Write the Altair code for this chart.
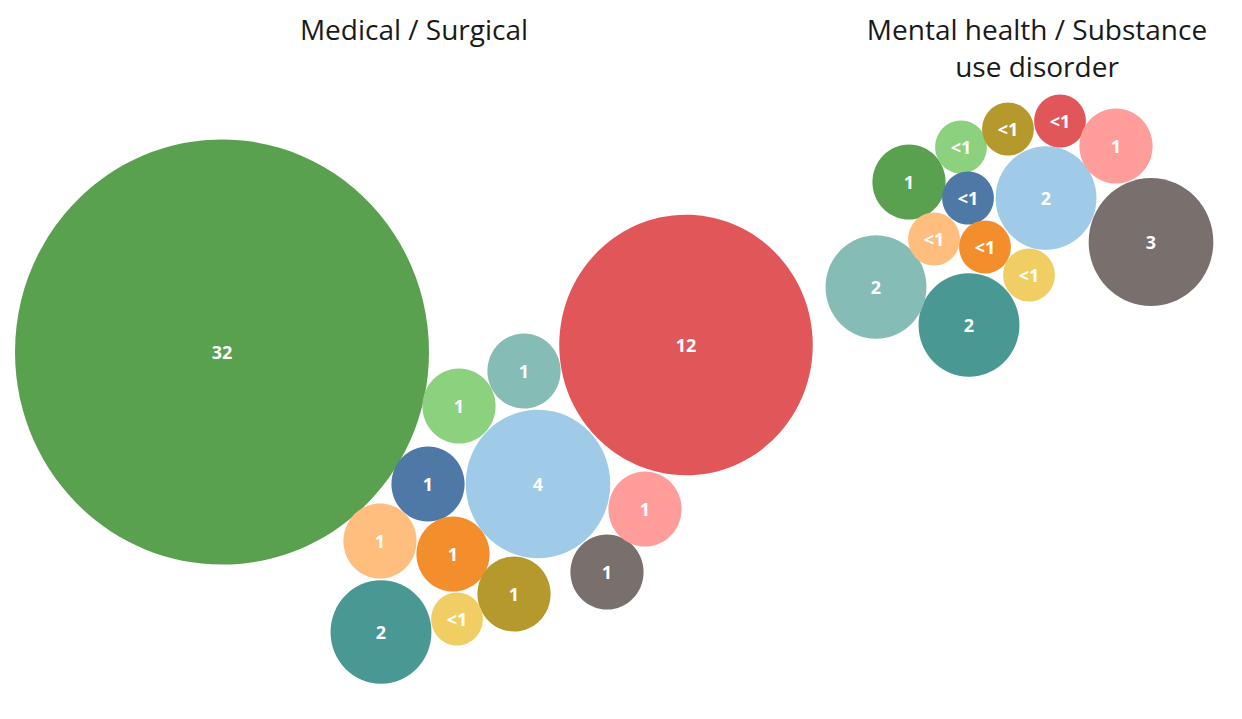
import altair as alt
import pandas as pd

# ---- data ----
groups = ["Medical / Surgical"] * 13 + ["Mental health / Substance use disorder"] * 13
categories = [
    "C01", "C02", "C03", "C04", "C05", "C06", "C07", "C08", "C09", "C10", "C11", "C12", "C13",
    "C01", "C02", "C03", "C04", "C05", "C06", "C07", "C08", "C09", "C10", "C11", "C12", "C13",
]
values = [
    32, 12, 3.9, 1.9, 1.0, 1.0, 1.0, 1.0, 1.0, 1.0, 1.0, 1.0, 0.5,
    1.0, 0.5, 1.9, 1.9, 1.9, 0.5, 0.5, 0.5, 0.5, 0.5, 2.9, 1.0, 0.5,
]
labels = [
    "32", "12", "4", "2", "1", "1", "1", "1", "1", "1", "1", "1", "<1",
    "1", "<1", "2", "2", "2", "<1", "<1", "<1", "<1", "<1", "3", "1", "<1",
]
# layout coordinates of the packed bubbles
px = [
    222, 686, 538, 381, 524, 459, 428, 380, 453, 514, 607, 645, 457,
    909, 1060, 1046, 969, 876, 961, 968, 934, 985, 1008, 1151, 1116, 1029,
]
py = [
    352, 345, 484, 632, 371, 406, 484, 541, 554, 594, 572, 509, 619,
    182, 121, 198, 325, 287, 147, 198, 239, 247, 129, 242, 146, 275,
]
cat_domain = ["C01", "C02", "C03", "C04", "C05", "C06", "C07", "C08", "C09", "C10", "C11", "C12", "C13"]
cat_colors = ["#59A14F", "#E15759", "#A0CBE8", "#499894", "#86BCB6", "#8CD17D", "#4E79A7",
              "#FFBE7D", "#F28E2B", "#B6992D", "#79706E", "#FF9D9A", "#F1CE63"]

title_lines = ["Medical / Surgical", "Mental health / Substance", "use disorder"]
title_x = [414, 1037, 1037]
title_y = [40, 40, 77]

df = pd.DataFrame({"group": groups, "category": categories, "value": values,
                   "label": labels, "x": px, "y": py})
tdf = pd.DataFrame({"text": title_lines, "x": title_x, "y": title_y})

W, H = 1226, 695
xs = alt.Scale(domain=[8, 8 + W], nice=False, zero=False)
ys = alt.Scale(domain=[8, 8 + H], nice=False, zero=False, reverse=True)

ellipse = "M -1 0 A 1 1.027 0 1 0 1 0 A 1 1.027 0 1 0 -1 0 Z"

bubbles = alt.Chart(df).mark_point(filled=True, opacity=1, shape=ellipse, strokeWidth=0).encode(
    x=alt.X("x:Q", scale=xs, axis=None),
    y=alt.Y("y:Q", scale=ys, axis=None),
    size=alt.Size("value:Q", scale=alt.Scale(type="linear", domain=[0, 32], range=[0, 4 * 207 * 207], zero=True), legend=None),
    color=alt.Color("category:N", scale=alt.Scale(domain=cat_domain, range=cat_colors), legend=None),
)

nums = alt.Chart(df).mark_text(font="Open Sans", fontWeight="bold", fontSize=18, color="white",
                               align="center", baseline="middle", dy=2).encode(
    x=alt.X("x:Q", scale=xs, axis=None),
    y=alt.Y("y:Q", scale=ys, axis=None),
    text="label:N",
)

titles = alt.Chart(tdf).mark_text(font="Open Sans", fontSize=28, color="#1a1a1a",
                                  align="center", baseline="alphabetic").encode(
    x=alt.X("x:Q", scale=xs, axis=None),
    y=alt.Y("y:Q", scale=ys, axis=None),
    text="text:N",
)

chart = alt.layer(bubbles, nums, titles).properties(
    width=W, height=H, padding=0, autosize=alt.AutoSizeParams(type="none")
).configure_view(stroke=None)

chart.save("out.html", embed_options={"renderer": "svg", "actions": False})
